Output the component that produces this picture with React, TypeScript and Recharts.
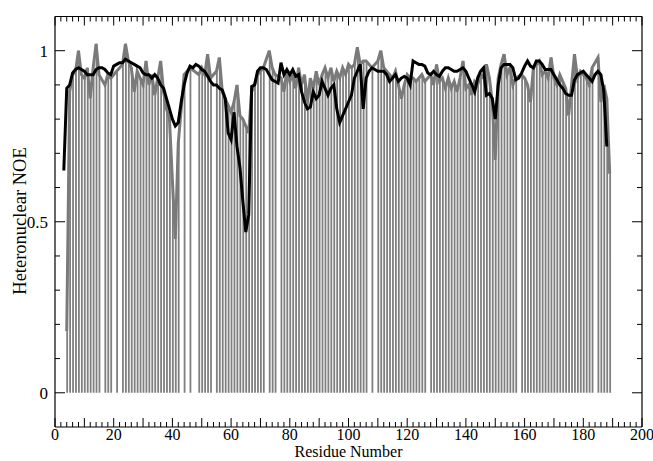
import React from 'react';
import { ComposedChart, Bar, Line, XAxis, YAxis } from 'recharts';

const residues = [
  3, 4, 5, 6, 7, 8, 9, 10, 11, 12, 13, 14, 15, 16, 17, 18, 19, 20, 21, 22,
  23, 24, 25, 26, 27, 28, 29, 30, 31, 32, 33, 34, 35, 36, 37, 38, 39, 40, 41, 42,
  43, 44, 45, 46, 47, 48, 49, 50, 51, 52, 53, 54, 55, 56, 57, 58, 59, 60, 61, 62,
  63, 64, 65, 66, 67, 68, 69, 70, 71, 72, 73, 74, 75, 76, 77, 78, 79, 80, 81, 82,
  83, 84, 85, 86, 87, 88, 89, 90, 91, 92, 93, 94, 95, 96, 97, 98, 99, 100, 101, 102,
  103, 104, 105, 106, 107, 108, 109, 110, 111, 112, 113, 114, 115, 116, 117, 118, 119, 120, 121, 122,
  123, 124, 125, 126, 127, 128, 129, 130, 131, 132, 133, 134, 135, 136, 137, 138, 139, 140, 141, 142,
  143, 144, 145, 146, 147, 148, 149, 150, 151, 152, 153, 154, 155, 156, 157, 158, 159, 160, 161, 162,
  163, 164, 165, 166, 167, 168, 169, 170, 171, 172, 173, 174, 175, 176, 177, 178, 179, 180, 181, 182,
  183, 184, 185, 186, 187, 188, 189,
];

// experimental heteronuclear NOE (grey, drop lines); null = residue not measured
const noeExp = [
  null, 0.18, 0.88, 0.93, 0.94, 1.0, 0.93, 0.92, 0.95, 0.86, 0.95, 1.02, 0.93, null, 0.90, 0.93, 0.92, null, 0.94, null,
  0.96, 1.02, 0.97, 0.95, 0.88, 0.94, 0.92, 0.90, 0.97, 0.90, 0.93, 0.87, 0.92, 0.97, 0.88, 0.83, 0.80, 0.62, 0.45, 0.73,
  null, 0.93, null, 0.95, null, null, 0.93, 0.95, 0.93, 0.99, 0.92, null, 0.94, 0.98, 0.88, 0.86, 0.84, 0.82, 0.85, 0.90,
  0.81, 0.80, 0.78, 0.76, 0.88, 0.90, 0.93, 0.94, 0.95, null, 1.0, 0.95, 0.93, null, 0.92, 0.88, 0.94, 0.91, 0.93, 0.89,
  0.95, 0.90, 0.93, 0.85, 0.92, 0.89, 0.94, 0.90, 0.93, 0.95, 0.92, 0.95, 0.91, 0.94, 0.92, 0.95, 0.93, 0.96, 0.95, 0.96,
  1.01, 0.96, 0.97, 0.97, null, 0.95, null, 0.97, 1.0, 0.95, 0.94, 0.93, 0.92, 0.94, 0.90, 0.86, 0.90, 0.93, 0.92, 0.92,
  0.91, 0.92, 0.93, 0.91, null, 0.93, 0.90, 0.96, 0.91, 0.92, 0.89, 0.92, 0.89, 0.91, 0.88, 0.92, 0.97, 0.89, 0.90, 0.87,
  0.91, 0.90, 0.93, 0.92, 0.96, 0.92, 0.85, 0.68, 0.92, 0.96, 0.99, 0.93, 0.95, 0.90, 0.92, null, 0.93, 0.92, 0.90, 0.85,
  0.95, 0.96, 0.97, 0.93, 0.94, 0.92, 0.98, 0.92, 0.90, 0.93, 0.91, 0.89, 0.81, 0.90, 0.99, 0.92, 0.94, 0.93, 0.92, 0.90,
  0.95, null, 0.98, 0.85, 0.90, 0.86, 0.64,
];

// predicted / reference NOE profile (black line)
const noeCalc = [
  0.65, 0.89, 0.90, 0.935, 0.945, 0.95, 0.945, 0.94, 0.93, 0.93, 0.93, 0.945, 0.95, 0.95, 0.945, 0.935, 0.93, 0.955, 0.96, 0.965,
  0.965, 0.975, 0.97, 0.965, 0.96, 0.955, 0.95, 0.935, 0.93, 0.93, 0.92, 0.93, 0.92, 0.90, 0.89, 0.86, 0.83, 0.80, 0.78, 0.79,
  0.85, 0.90, 0.935, 0.955, 0.95, 0.96, 0.955, 0.945, 0.94, 0.925, 0.91, 0.90, 0.90, 0.89, 0.885, 0.86, 0.76, 0.74, 0.82, 0.72,
  0.66, 0.56, 0.47, 0.52, 0.895, 0.90, 0.94, 0.95, 0.95, 0.945, 0.93, 0.915, 0.91, 0.905, 0.965, 0.93, 0.945, 0.93, 0.945, 0.925,
  0.93, 0.88, 0.85, 0.83, 0.835, 0.88, 0.86, 0.87, 0.91, 0.89, 0.87, 0.89, 0.90, 0.83, 0.79, 0.81, 0.83, 0.85, 0.87, 0.92,
  0.94, 0.96, 0.83, 0.92, 0.94, 0.95, 0.945, 0.94, 0.94, 0.94, 0.93, 0.91, 0.92, 0.93, 0.91, 0.92, 0.925, 0.92, 0.90, 0.97,
  0.965, 0.96, 0.96, 0.955, 0.935, 0.93, 0.94, 0.93, 0.925, 0.94, 0.95, 0.95, 0.945, 0.94, 0.94, 0.945, 0.95, 0.94, 0.92, 0.90,
  0.88, 0.92, 0.94, 0.95, 0.87, 0.875, 0.86, 0.80, 0.90, 0.95, 0.96, 0.96, 0.96, 0.95, 0.915, 0.92, 0.935, 0.955, 0.97, 0.955,
  0.95, 0.97, 0.97, 0.96, 0.945, 0.945, 0.945, 0.93, 0.915, 0.90, 0.89, 0.875, 0.87, 0.87, 0.915, 0.93, 0.935, 0.94, 0.93, 0.92,
  0.91, 0.93, 0.94, 0.93, 0.88, 0.72, null,
];

const xTicks = [
  0, 2, 4, 6, 8, 10, 12, 14, 16, 18, 20, 22, 24, 26, 28, 30, 32, 34, 36, 38, 40, 42, 44, 46, 48, 50,
  52, 54, 56, 58, 60, 62, 64, 66, 68, 70, 72, 74, 76, 78, 80, 82, 84, 86, 88, 90, 92, 94, 96, 98, 100,
  102, 104, 106, 108, 110, 112, 114, 116, 118, 120, 122, 124, 126, 128, 130, 132, 134, 136, 138, 140, 142, 144, 146, 148, 150,
  152, 154, 156, 158, 160, 162, 164, 166, 168, 170, 172, 174, 176, 178, 180, 182, 184, 186, 188, 190, 192, 194, 196, 198, 200,
];
const xLabelled = [0, 20, 40, 60, 80, 100, 120, 140, 160, 180, 200];
const xMajor = [0, 10, 20, 30, 40, 50, 60, 70, 80, 90, 100, 110, 120, 130, 140, 150, 160, 170, 180, 190, 200];
const yTicks = [0, 0.1, 0.2, 0.3, 0.4, 0.5, 0.6, 0.7, 0.8, 0.9, 1];
const yMajor = [0, 0.5, 1];
const yLabels = ['0', '0.5', '1'];

const FONT = '"Liberation Serif", "Times New Roman", Times, serif';
const FS = 17;
const XFS = 16;

const data = residues.map((r, i) => ({ res: r, exp: noeExp[i], calc: noeCalc[i] }));

const isX = (arr: number[], v: number) => arr.some((a) => Math.abs(a - v) < 1e-6);

function BottomTick(props: any) {
  const { x, y, payload } = props;
  const v = payload.value;
  const major = isX(xMajor, v);
  return (
    <g>
      <line x1={x} x2={x} y1={y} y2={y - (major ? 9 : 5)} stroke="#000" strokeWidth={1} />
      {isX(xLabelled, v) ? (
        <text x={x} y={y + 13} textAnchor="middle" fontSize={XFS} fontFamily={FONT} fill="#000">
          {v}
        </text>
      ) : null}
    </g>
  );
}

function TopTick(props: any) {
  const { x, y, payload } = props;
  const v = payload.value;
  const major = isX(xMajor, v);
  return <line x1={x} x2={x} y1={y} y2={y + (major ? 9 : 5)} stroke="#000" strokeWidth={1} />;
}

function LeftTick(props: any) {
  const { x, y, payload } = props;
  const v = payload.value;
  const mi = yMajor.findIndex((a) => Math.abs(a - v) < 1e-6);
  return (
    <g>
      <line x1={x} x2={x + (mi >= 0 ? 10 : 5)} y1={y} y2={y} stroke="#000" strokeWidth={1} />
      {mi >= 0 ? (
        <text x={x - 7} y={y} dy="0.35em" textAnchor="end" fontSize={FS} fontFamily={FONT} fill="#000">
          {yLabels[mi]}
        </text>
      ) : null}
    </g>
  );
}

function RightTick(props: any) {
  const { x, y, payload } = props;
  const v = payload.value;
  const major = isX(yMajor, v);
  return <line x1={x} x2={x - (major ? 10 : 5)} y1={y} y2={y} stroke="#000" strokeWidth={1} />;
}

export default function App() {
  const W = 653;
  const H = 461;
  const margin = { top: 0, right: 0, bottom: 0, left: 0 };
  const yDomain: [number, number] = [-0.1, 1.1];
  return (
    <div style={{ position: 'absolute', left: 0, top: 0, width: W, height: H, background: '#fff' }}>
      <ComposedChart width={W} height={H} data={data} margin={margin}>
        <XAxis
          dataKey="res"
          type="number"
          domain={[0, 200]}
          allowDataOverflow
          ticks={xTicks}
          interval={0}
          height={34}
          tickSize={0}
          tickMargin={0}
          tick={<BottomTick />}
          axisLine={{ stroke: '#000', strokeWidth: 1.2 }}
          tickLine={false}
        />
        <XAxis
          xAxisId="top"
          orientation="top"
          dataKey="res"
          type="number"
          domain={[0, 200]}
          allowDataOverflow
          ticks={xTicks}
          interval={0}
          height={16.5}
          tickSize={0}
          tickMargin={0}
          tick={<TopTick />}
          axisLine={{ stroke: '#000', strokeWidth: 1.2 }}
          tickLine={false}
        />
        <YAxis
          type="number"
          domain={yDomain}
          allowDataOverflow
          ticks={yTicks}
          interval={0}
          width={55}
          tickSize={0}
          tickMargin={0}
          tick={<LeftTick />}
          axisLine={{ stroke: '#000', strokeWidth: 1.2 }}
          tickLine={false}
        />
        <YAxis
          yAxisId="right"
          orientation="right"
          type="number"
          domain={yDomain}
          allowDataOverflow
          ticks={yTicks}
          interval={0}
          width={11}
          tickSize={0}
          tickMargin={0}
          tick={<RightTick />}
          axisLine={{ stroke: '#000', strokeWidth: 1.2 }}
          tickLine={false}
        />
        <Bar dataKey="exp" fill="#7f7f7f" barSize={1.8} isAnimationActive={false} />
        <Line
          dataKey="exp"
          type="linear"
          stroke="#7a7a7a"
          strokeWidth={3}
          dot={false}
          activeDot={false}
          connectNulls
          isAnimationActive={false}
        />
        <Line
          dataKey="calc"
          type="linear"
          stroke="#000"
          strokeWidth={3}
          dot={false}
          activeDot={false}
          isAnimationActive={false}
        />
      </ComposedChart>
      <div
        style={{
          position: 'absolute',
          left: 0,
          top: 443,
          width: W,
          paddingLeft: 55,
          paddingRight: 11,
          boxSizing: 'border-box',
          textAlign: 'center',
          fontFamily: FONT,
          fontSize: 16,
          lineHeight: '18px',
        }}
      >
        Residue Number
      </div>
      <div
        style={{
          position: 'absolute',
          left: 20,
          top: 221,
          transform: 'translate(-50%, -50%) rotate(-90deg)',
          whiteSpace: 'nowrap',
          fontFamily: FONT,
          fontSize: 18.5,
          lineHeight: '20px',
        }}
      >
        Heteronuclear NOE
      </div>
    </div>
  );
}
